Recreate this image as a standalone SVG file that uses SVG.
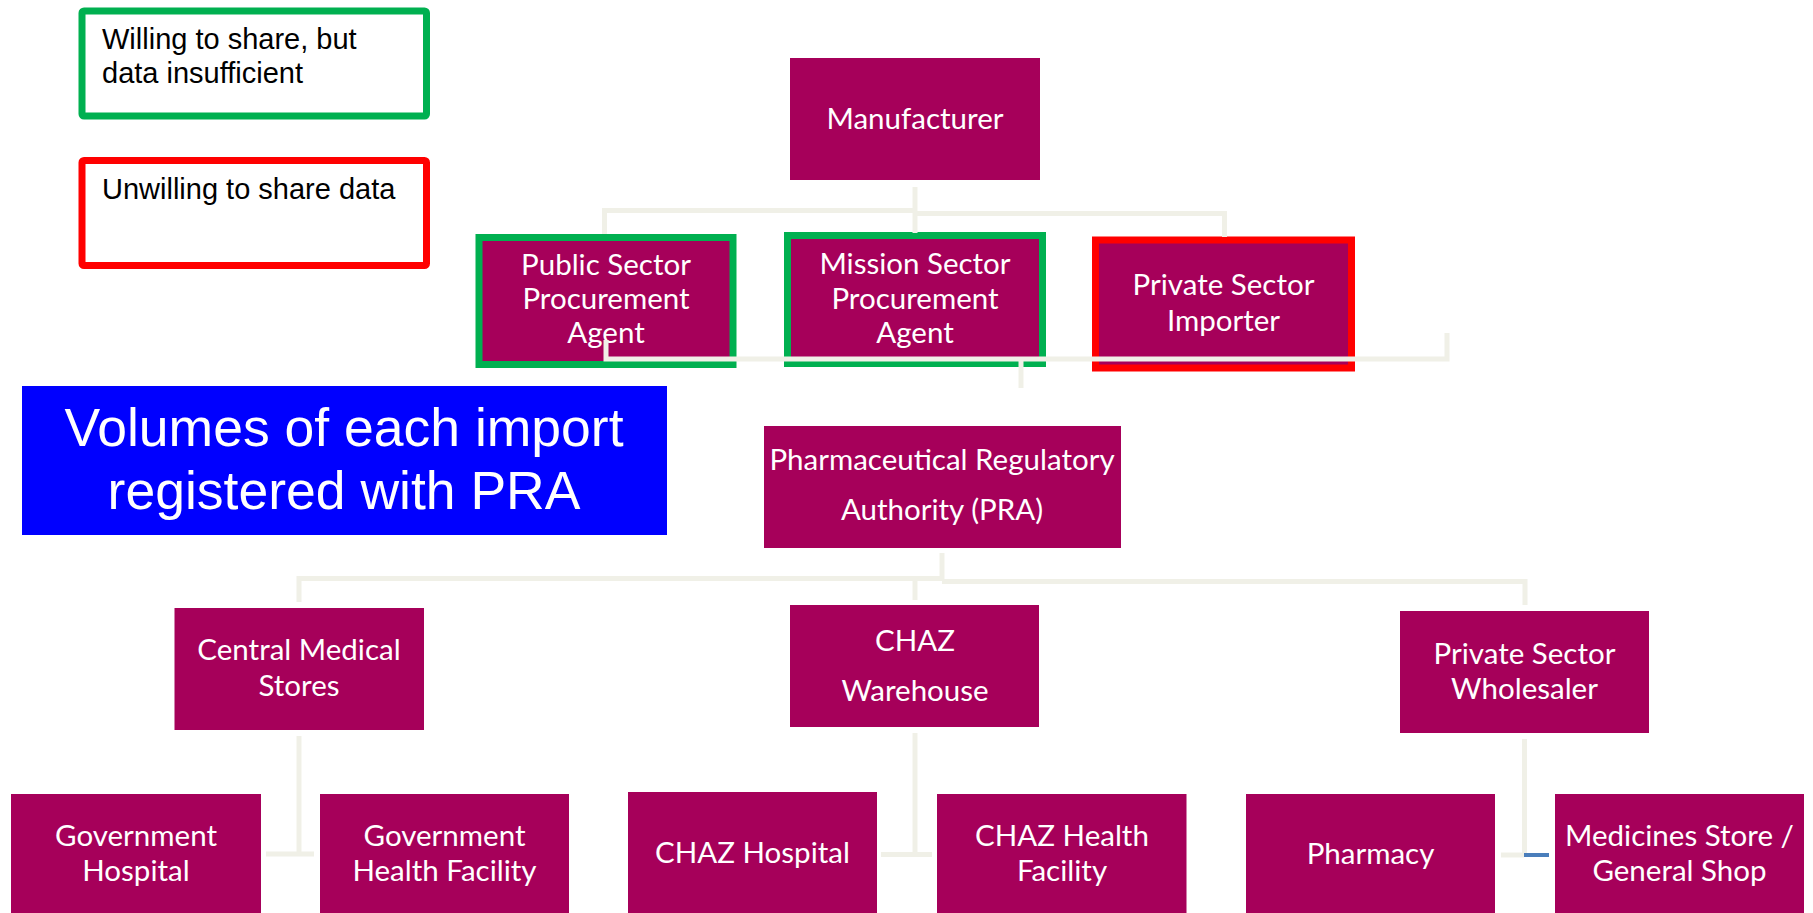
<svg xmlns="http://www.w3.org/2000/svg" width="1813" height="913" viewBox="0 0 1813 913">
<style>
.box{fill:#A6005A}
.gb{stroke:#00B050;stroke-width:7}
.rb{stroke:#FF0000;stroke-width:7}
.t{font-family:Lato,"Liberation Sans",sans-serif;font-size:29.5px;fill:#FFFFFF;text-anchor:middle}
.lg{font-family:"Liberation Sans",Arial,sans-serif;font-size:29px;fill:#000000}
.con{fill:none;stroke:#F0F0E7;stroke-width:5}
</style>
<rect width="1813" height="913" fill="#FFFFFF"/>
<g id="legend-willing">
<rect x="82" y="11" width="344.5" height="105" rx="2" fill="#FFFFFF" stroke="#00B050" stroke-width="7"/>
<text class="lg" x="102" y="49">Willing to share, but</text>
<text class="lg" x="102" y="83">data insufficient</text>
</g>
<g id="legend-unwilling">
<rect x="82" y="160.5" width="344.5" height="105" rx="2" fill="#FFFFFF" stroke="#FF0000" stroke-width="7"/>
<text class="lg" x="102" y="199">Unwilling to share data</text>
</g>
<g id="note-volumes">
<rect x="22" y="386" width="645" height="149" fill="#0000FF"/>
<text x="344" y="446" font-family="Liberation Sans,Arial,sans-serif" font-size="53.5" fill="#FFFFFF" text-anchor="middle">Volumes of each import</text>
<text x="344" y="509" font-family="Liberation Sans,Arial,sans-serif" font-size="53.5" fill="#FFFFFF" text-anchor="middle">registered with PRA</text>
</g>
<g id="manufacturer">
<rect class="box" x="790" y="58" width="250" height="122"/>
<text class="t" x="915" y="129">Manufacturer</text>
</g>
<g id="public-sector-agent">
<rect class="box gb" x="479" y="237.5" width="254" height="127"/>
<text class="t" x="606" y="275">Public Sector</text>
<text class="t" x="606" y="309">Procurement</text>
<text class="t" x="606" y="343">Agent</text>
</g>
<g id="mission-sector-agent">
<rect class="box gb" x="787.5" y="235.5" width="255" height="128"/>
<text class="t" x="915" y="274">Mission Sector</text>
<text class="t" x="915" y="308.5">Procurement</text>
<text class="t" x="915" y="342.5">Agent</text>
</g>
<g id="private-sector-importer">
<rect class="box rb" x="1095.5" y="240" width="256" height="128"/>
<text class="t" x="1223.5" y="295">Private Sector</text>
<text class="t" x="1223.5" y="330.5">Importer</text>
</g>
<g id="pra">
<rect class="box" x="764" y="426" width="357" height="122"/>
<text class="t" x="942" y="470">Pharmaceutical Regulatory</text>
<text class="t" x="942" y="520">Authority (PRA)</text>
</g>
<g id="central-medical-stores">
<rect class="box" x="174.5" y="608" width="249.5" height="122"/>
<text class="t" x="299" y="660">Central Medical</text>
<text class="t" x="299" y="696">Stores</text>
</g>
<g id="chaz-warehouse">
<rect class="box" x="790" y="605" width="249" height="122"/>
<text class="t" x="915" y="651">CHAZ</text>
<text class="t" x="915" y="701">Warehouse</text>
</g>
<g id="private-sector-wholesaler">
<rect class="box" x="1400" y="611" width="249" height="122"/>
<text class="t" x="1524.5" y="664">Private Sector</text>
<text class="t" x="1524.5" y="699">Wholesaler</text>
</g>
<g id="government-hospital">
<rect class="box" x="11" y="794" width="250" height="130"/>
<text class="t" x="136" y="846">Government</text>
<text class="t" x="136" y="881">Hospital</text>
</g>
<g id="government-health-facility">
<rect class="box" x="320" y="794" width="249" height="130"/>
<text class="t" x="444.5" y="846">Government</text>
<text class="t" x="444.5" y="881">Health Facility</text>
</g>
<g id="chaz-hospital">
<rect class="box" x="628" y="792" width="249" height="132"/>
<text class="t" x="752.5" y="863">CHAZ Hospital</text>
</g>
<g id="chaz-health-facility">
<rect class="box" x="937" y="794" width="249.5" height="130"/>
<text class="t" x="1062" y="846">CHAZ Health</text>
<text class="t" x="1062" y="881">Facility</text>
</g>
<g id="pharmacy">
<rect class="box" x="1246" y="794" width="249" height="130"/>
<text class="t" x="1370.5" y="864">Pharmacy</text>
</g>
<g id="medicines-store">
<rect class="box" x="1555" y="794" width="249" height="130"/>
<text class="t" x="1679.5" y="846">Medicines Store /</text>
<text class="t" x="1679.5" y="881">General Shop</text>
</g>
<g id="connectors">
<path class="con" d="M915 187V233"/>
<path class="con" d="M604.5 234V210.5H915"/>
<path class="con" d="M915 213.5H1224.5V237"/>
<path class="con" d="M606 340V359H1447V333"/>
<path class="con" d="M1021 359V388"/>
<path class="con" d="M942 553V581"/>
<path class="con" d="M299 602V578.5H942"/>
<path class="con" d="M915 578.5V600"/>
<path class="con" d="M942 581.5H1525V605"/>
<path class="con" d="M299 736V854"/>
<path class="con" d="M266 854H314"/>
<path class="con" d="M915 733V853"/>
<path class="con" d="M881 854.5H932"/>
<path class="con" d="M1524.5 739V855"/>
<path class="con" d="M1501 855H1524"/>
<path d="M1524 855H1549" fill="none" stroke="#4A7EBB" stroke-width="4"/>
</g>
</svg>
